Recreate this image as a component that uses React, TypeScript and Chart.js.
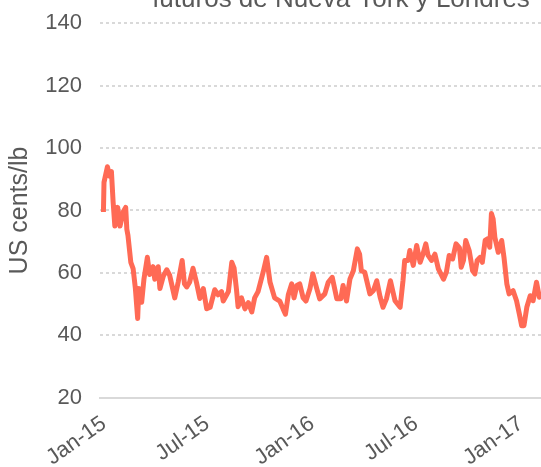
import React, { useEffect, useRef } from 'react';
import { Chart, registerables } from 'chart.js';

Chart.register(...registerables);

// Days counted from 1 January 2015
const START_DATE = '2015-01-01';
const dayNumbers = [
  6, 7, 13, 17, 20, 23, 26, 31, 35, 41, 45, 47, 49, 54, 58, 62, 66, 68, 73, 77,
  83, 87, 93, 96, 102, 105, 111, 117, 122, 131, 137, 144, 148, 152, 157, 163, 169, 175, 181, 187,
  193, 201, 207, 213, 216, 222, 225, 231, 235, 239, 242, 248, 254, 260, 266, 271, 277, 286, 292, 298,
  306, 315, 321, 325, 330, 336, 340, 345, 350, 356, 361, 368, 373, 380, 385, 394, 400, 407, 415, 422,
  426, 432, 438, 444, 451, 455, 458, 464, 473, 479, 485, 491, 496, 502, 509, 517, 526, 531, 534, 540,
  543, 549, 555, 561, 566, 571, 575, 581, 587, 593, 602, 607, 612, 618, 624, 630, 633, 637, 641, 647,
  653, 657, 661, 666, 670, 675, 680, 683, 686, 689, 692, 698, 704, 708, 713, 717, 724, 730, 735, 739,
  743, 748, 754, 759, 765, 770, 773,
];
const prices = [
  79.5, 89, 94, 91, 92.5, 82.7, 75, 81, 75, 79.7, 81, 74, 72, 63.4, 61.4, 55, 45.4, 55, 50.6, 58,
  65, 59.5, 62, 58, 62, 55, 59, 61, 59.3, 52, 57, 64, 56.5, 55.5, 57, 61.5, 57, 51.8, 55, 48.5,
  49, 54.6, 53, 54, 51, 53, 54, 63.4, 61.5, 55, 49.2, 52, 48.5, 50.5, 47.5, 52, 54, 60.3, 65, 57,
  52, 51, 48.4, 46.8, 53, 56.5, 52, 56, 56.5, 52, 51, 55, 59.7, 54.9, 51.7, 53.3, 57, 58.6, 51.7, 51.7,
  56, 51, 58, 60.7, 67.7, 66, 60.7, 60.2, 53.3, 54.3, 57.5, 52.2, 49, 51.7, 57.5, 51.1, 49, 57.5, 64, 64,
  67.2, 62.4, 68.8, 63.4, 66, 69.3, 65.6, 64, 66, 61.3, 58, 60.2, 65.6, 64.5, 69.3, 68, 61.8, 64, 70.4, 67.2,
  60.7, 59.7, 64, 65, 63.4, 70.4, 71, 68.2, 79, 77.3, 71.4, 66.6, 70.4, 65, 56.5, 53.3, 54.3, 51.1, 46.8, 43.1,
  43.1, 49, 52.7, 51.1, 57, 52.2, 53.8,
];

const tickDays = [0, 181, 365, 547, 731];
const tickLabels = ['Jan-15', 'Jul-15', 'Jan-16', 'Jul-16', 'Jan-17'];
const yTickValues = [20, 40, 60, 80, 100, 120, 140];

const titleText = 'futuros de Nueva York y Londres';
const yAxisTitle = 'US cents/lb';
const seriesLabel = 'Precio (US cents/lb)';

const FONT = "'Liberation Sans', Arial, sans-serif";
const TEXT_COLOR = '#595959';
const GRID_COLOR = '#d9d9d9';
const LINE_COLOR = '#FF6A55';

export default function App() {
  const ref = useRef<HTMLCanvasElement>(null);

  useEffect(() => {
    if (!ref.current) return;
    const chart = new Chart(ref.current, {
      type: 'line',
      data: {
        datasets: [
          {
            label: seriesLabel,
            data: dayNumbers.map((d, i) => ({ x: d, y: prices[i] })),
            borderColor: LINE_COLOR,
            backgroundColor: LINE_COLOR,
            borderWidth: 5,
            pointRadius: 0,
            tension: 0,
            fill: false,
            borderJoinStyle: 'round',
          },
        ],
      },
      options: {
        responsive: false,
        animation: false,
        devicePixelRatio: 1,
        layout: { padding: { left: 0, right: 0, top: 0, bottom: 0 } },
        plugins: {
          legend: { display: false },
          tooltip: { enabled: false },
          title: {
            display: true,
            text: titleText,
            color: TEXT_COLOR,
            font: { family: FONT, size: 26, weight: 'normal' },
            padding: { top: 10, bottom: 8 },
          },
        },
        scales: {
          x: {
            type: 'linear',
            min: 0,
            max: 1020,
            afterBuildTicks: (s: any) => {
              s.ticks = tickDays.map((v) => ({ value: v }));
            },
            ticks: {
              autoSkip: false,
              minRotation: 35,
              maxRotation: 35,
              padding: 5,
              labelOffset: 4,
              color: TEXT_COLOR,
              font: { family: FONT, size: 22 },
              callback: (v: any) => {
                const i = tickDays.indexOf(Number(v));
                return i >= 0 ? tickLabels[i] : '';
              },
            },
            grid: { display: false },
            border: { display: true, color: GRID_COLOR, width: 2 },
          },
          y: {
            min: 20,
            max: 140,
            afterBuildTicks: (s: any) => {
              s.ticks = yTickValues.map((v) => ({ value: v }));
            },
            ticks: {
              padding: 0,
              color: TEXT_COLOR,
              font: { family: FONT, size: 22 },
            },
            grid: {
              color: GRID_COLOR,
              lineWidth: 2,
              drawTicks: true,
              tickLength: 18,
              tickColor: 'rgba(0,0,0,0)',
            },
            border: { display: false, dash: [3, 3] },
            title: {
              display: true,
              text: yAxisTitle,
              color: TEXT_COLOR,
              font: { family: FONT, size: 25 },
              padding: { top: 5.5, bottom: 9.8 },
            },
          },
        },
      },
    } as any);
    return () => chart.destroy();
  }, []);

  return (
    <div
      style={{
        position: 'fixed',
        left: 0,
        top: 0,
        width: 541,
        height: 467,
        overflow: 'hidden',
        background: '#ffffff',
      }}
    >
      <canvas
        ref={ref}
        width={682}
        height={502}
        data-start={START_DATE}
        style={{ position: 'absolute', left: 0, top: -26, width: 682, height: 502 }}
      />
    </div>
  );
}
